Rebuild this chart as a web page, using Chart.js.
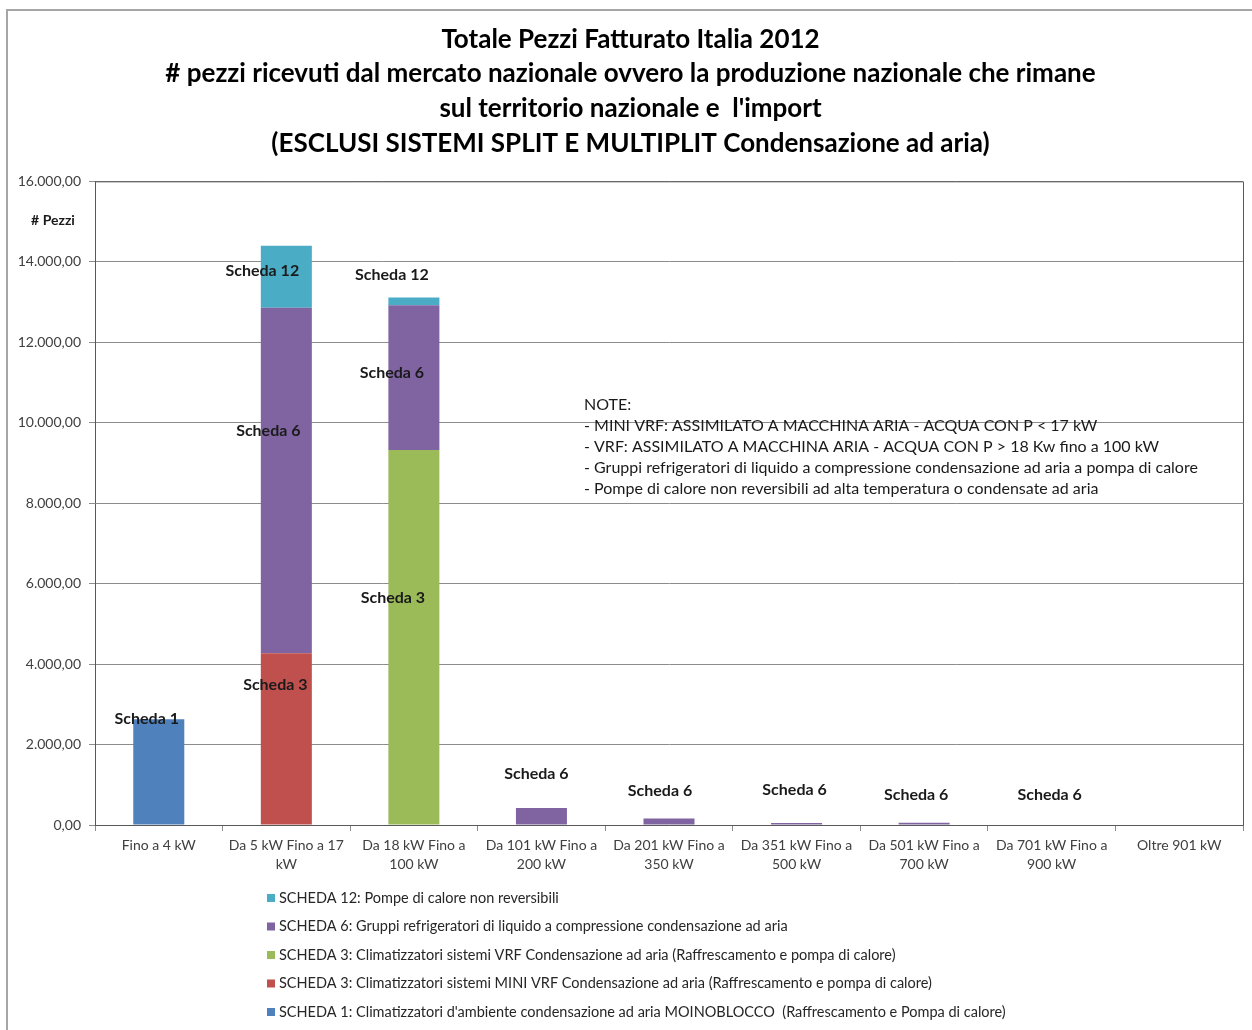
<!DOCTYPE html>
<html>
<head>
<meta charset="utf-8">
<title>Totale Pezzi Fatturato Italia 2012</title>
<script src="https://cdn.jsdelivr.net/npm/chart.js@4.4.1/dist/chart.umd.min.js"></script>
<style>
  html, body { margin: 0; padding: 0; background: #fff; }
  #wrap { position: relative; width: 1252px; height: 1030px; }
</style>
</head>
<body>
<div id="wrap"><canvas id="pezziChart" width="1252" height="1030"></canvas></div>
<script>
// categorie di potenza
const categories = [
  ['Fino a 4 kW'],
  ['Da 5 kW Fino a 17', 'kW'],
  ['Da 18 kW Fino a', '100 kW'],
  ['Da 101 kW Fino a', '200 kW'],
  ['Da 201 kW Fino a', '350 kW'],
  ['Da 351 kW Fino a', '500 kW'],
  ['Da 501 kW Fino a', '700 kW'],
  ['Da 701 kW Fino a', '900 kW'],
  ['Oltre 901 kW']
];

// pezzi per scheda
const scheda1  = [2630, 0, 0, 0, 0, 0, 0, 0, 0];
const scheda3m = [0, 4270, 0, 0, 0, 0, 0, 0, 0];
const scheda3v = [0, 0, 9320, 0, 0, 0, 0, 0, 0];
const scheda6  = [0, 8590, 3600, 420, 160, 50, 55, 10, 0];
const scheda12 = [0, 1540, 190, 0, 0, 0, 0, 0, 0];

const yTicks = [0, 2000, 4000, 6000, 8000, 10000, 12000, 14000, 16000];

const titleLines = [
  'Totale Pezzi Fatturato Italia 2012',
  '# pezzi ricevuti dal mercato nazionale ovvero la produzione nazionale che rimane',
  'sul territorio nazionale e  l\'import',
  '(ESCLUSI SISTEMI SPLIT E MULTIPLIT Condensazione ad aria)'
];

const noteLines = [
  'NOTE:',
  '- MINI VRF: ASSIMILATO A MACCHINA ARIA - ACQUA CON P < 17 kW',
  '- VRF: ASSIMILATO A MACCHINA ARIA - ACQUA CON P > 18 Kw fino a 100 kW',
  '- Gruppi refrigeratori di liquido a compressione condensazione ad aria a pompa di calore',
  '- Pompe di calore non reversibili ad alta temperatura o condensate ad aria'
];

// etichette "Scheda" sulle colonne: categoria, quota in pezzi, spostamento orizzontale
const schedaLabels = [
  { cat: 0, at: 2634, dx: -12, text: 'Scheda 1' },
  { cat: 1, at: 3478, dx: -11, text: 'Scheda 3' },
  { cat: 1, at: 9789, dx: -18, text: 'Scheda 6' },
  { cat: 1, at: 13764, dx: -24, text: 'Scheda 12' },
  { cat: 2, at: 5640, dx: -21, text: 'Scheda 3' },
  { cat: 2, at: 11230, dx: -22, text: 'Scheda 6' },
  { cat: 2, at: 13665, dx: -22, text: 'Scheda 12' },
  { cat: 3, at: 1267, dx: -5, text: 'Scheda 6' },
  { cat: 4, at: 845, dx: -9, text: 'Scheda 6' },
  { cat: 5, at: 870, dx: -2, text: 'Scheda 6' },
  { cat: 6, at: 745, dx: -8, text: 'Scheda 6' },
  { cat: 7, at: 745, dx: -2, text: 'Scheda 6' }
];

const FONT = 'Lato, "Open Sans", sans-serif';
Chart.defaults.font.family = FONT;

function formatIt(v) {
  return Math.round(v).toString().replace(/\B(?=(\d{3})+(?!\d))/g, '.') + ',00';
}

// cornice, bordo area, titolo asse, note, etichette e legenda
const decorPlugin = {
  id: 'decor',
  beforeDraw(chart) {
    const ctx = chart.ctx;
    ctx.save();
    ctx.fillStyle = '#fff';
    ctx.fillRect(0, 0, chart.width, chart.height);
    ctx.strokeStyle = '#a6a6a6';
    ctx.lineWidth = 2;
    ctx.beginPath();
    ctx.moveTo(7, chart.height);
    ctx.lineTo(7, 10);
    ctx.lineTo(chart.width, 10);
    ctx.stroke();
    ctx.restore();
  },
  beforeDatasetsDraw(chart) {
    const ctx = chart.ctx;
    const a = chart.chartArea;
    ctx.save();
    ctx.fillStyle = '#1a1a1a';
    ctx.font = '16px ' + FONT;
    ctx.textAlign = 'left';
    ctx.textBaseline = 'middle';
    noteLines.forEach((t, i) => ctx.fillText(t, a.left + 489, a.top + 224 + i * 20.8));
    ctx.restore();
  },
  afterDatasetsDraw(chart) {
    const ctx = chart.ctx;
    const a = chart.chartArea;
    const xs = chart.scales.x, ys = chart.scales.y;
    ctx.save();
    // bordo superiore e destro dell'area
    ctx.strokeStyle = '#595959';
    ctx.lineWidth = 1;
    ctx.beginPath();
    ctx.moveTo(a.left, a.top + 0.5);
    ctx.lineTo(a.right + 0.5, a.top + 0.5);
    ctx.lineTo(a.right + 0.5, a.bottom);
    ctx.stroke();

    ctx.fillStyle = '#1a1a1a';
    ctx.font = 'bold 14px ' + FONT;
    ctx.textAlign = 'center';
    ctx.textBaseline = 'middle';
    ctx.fillText('# Pezzi', 53, a.top + 39);

    ctx.font = 'bold 16px ' + FONT;
    schedaLabels.forEach(l => {
      ctx.fillText(l.text, xs.getPixelForValue(l.cat) + l.dx, ys.getPixelForValue(l.at));
    });

    // legenda in ordine inverso di impilamento
    ctx.font = '14.5px ' + FONT;
    ctx.textAlign = 'left';
    const items = chart.data.datasets.slice().reverse();
    items.forEach((ds, i) => {
      const y = a.bottom + 73 + i * 28.5;
      ctx.fillStyle = ds.backgroundColor;
      ctx.fillRect(267, y - 4, 8, 8);
      ctx.fillStyle = '#262626';
      ctx.fillText(ds.label, 279, y);
    });
    ctx.restore();
  }
};

new Chart(document.getElementById('pezziChart'), {
  type: 'bar',
  data: {
    labels: categories,
    datasets: [
      { label: 'SCHEDA 1: Climatizzatori d\'ambiente condensazione ad aria MOINOBLOCCO  (Raffrescamento e Pompa di calore)', data: scheda1, backgroundColor: '#4f81bd' },
      { label: 'SCHEDA 3: Climatizzatori sistemi MINI VRF Condensazione ad aria (Raffrescamento e pompa di calore)', data: scheda3m, backgroundColor: '#c0504d' },
      { label: 'SCHEDA 3: Climatizzatori sistemi VRF Condensazione ad aria (Raffrescamento e pompa di calore)', data: scheda3v, backgroundColor: '#9bbb59' },
      { label: 'SCHEDA 6: Gruppi refrigeratori di liquido a compressione condensazione ad aria', data: scheda6, backgroundColor: '#8064a2' },
      { label: 'SCHEDA 12: Pompe di calore non reversibili', data: scheda12, backgroundColor: '#4bacc6' }
    ]
  },
  options: {
    responsive: false,
    animation: false,
    layout: { padding: { left: 18, right: 9, top: 0, bottom: 0 } },
    datasets: { bar: { categoryPercentage: 1, barPercentage: 0.4 } },
    plugins: {
      legend: { display: false },
      tooltip: { enabled: false },
      title: {
        display: true,
        text: titleLines,
        color: '#000',
        font: { size: 26, weight: 'bold', lineHeight: 1.335 },
        padding: { top: 22, bottom: 20.5 }
      }
    },
    scales: {
      x: {
        stacked: true,
        grid: { drawOnChartArea: false, drawTicks: true, tickLength: 6, color: '#8c8c8c' },
        border: { color: '#595959' },
        ticks: { color: '#404040', font: { size: 14, lineHeight: 1.36 }, padding: 5, maxRotation: 0, autoSkip: false },
        afterFit(scale) { scale.height = 205; }
      },
      y: {
        stacked: true,
        min: 0,
        max: 16000,
        afterBuildTicks(scale) { scale.ticks = yTicks.map(v => ({ value: v })); },
        grid: { color: '#8c8c8c', tickLength: 6 },
        border: { color: '#595959' },
        ticks: { color: '#404040', font: { size: 14 }, padding: 8, callback: v => formatIt(v) },
        afterFit(scale) { scale.width = 77; }
      }
    }
  },
  plugins: [decorPlugin]
});
</script>
</body>
</html>
